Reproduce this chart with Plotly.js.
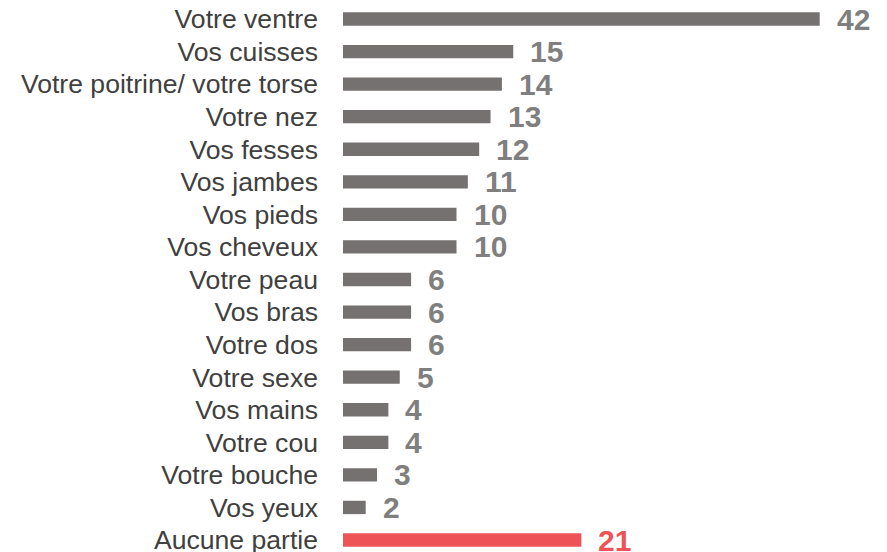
<!DOCTYPE html>
<html>
<head>
<meta charset="utf-8">
<script src="https://cdn.plot.ly/plotly-3.0.1.min.js"></script>
<style>html,body{margin:0;padding:0;background:#fff;}#chart{width:887px;height:552px;}</style>
</head>
<body>
<div id="chart"></div>
<script>
const categories = ["Votre ventre","Vos cuisses","Votre poitrine/ votre torse","Votre nez","Vos fesses","Vos jambes","Vos pieds","Vos cheveux","Votre peau","Vos bras","Votre dos","Votre sexe","Vos mains","Votre cou","Votre bouche","Vos yeux","Aucune partie"];
const values = [42,15,14,13,12,11,10,10,6,6,6,5,4,4,3,2,21];
const labels = ["42","15","14","13","12","11","10","10","6","6","6","5","4","4","3","2","21"];
const highlight = "Aucune partie";

const GREY = "#767171", RED = "#EE5457", LGREY = "#7F7F7F";
const barColors = categories.map(c => c === highlight ? RED : GREY);
const textColors = categories.map(c => c === highlight ? RED : LGREY);

const trace = {
  type: "bar", orientation: "h",
  x: values, y: categories,
  marker: {color: barColors},
  hoverinfo: "none"
};

const annotations = categories.map((c, i) => ({
  x: values[i], y: c, xref: "x", yref: "y",
  text: labels[i], showarrow: false,
  xanchor: "left", yanchor: "middle", xshift: 15,
  font: {family: "Liberation Sans, Arial, sans-serif", size: 30, color: textColors[i], weight: "bold"}
}));

const n = categories.length;
const layout = {
  width: 887, height: 552,
  margin: {l: 343, r: 0, t: 0, b: 0, pad: 0},
  paper_bgcolor: "#fff", plot_bgcolor: "#fff",
  showlegend: false,
  bargap: 0.59,
  xaxis: {range: [0, 47.93], visible: false, fixedrange: true},
  yaxis: {
    type: "category", categoryorder: "array", categoryarray: categories,
    range: [n - 1 + 0.3686, -0.5835],
    showgrid: false, zeroline: false, showline: false, ticks: "",
    ticklabelstandoff: 24,
    tickfont: {family: "Liberation Sans, Arial, sans-serif", size: 26.6, color: "#404040"},
    fixedrange: true
  },
  annotations: annotations
};

Plotly.newPlot("chart", [trace], layout, {displayModeBar: false, staticPlot: true});
</script>
</body>
</html>
